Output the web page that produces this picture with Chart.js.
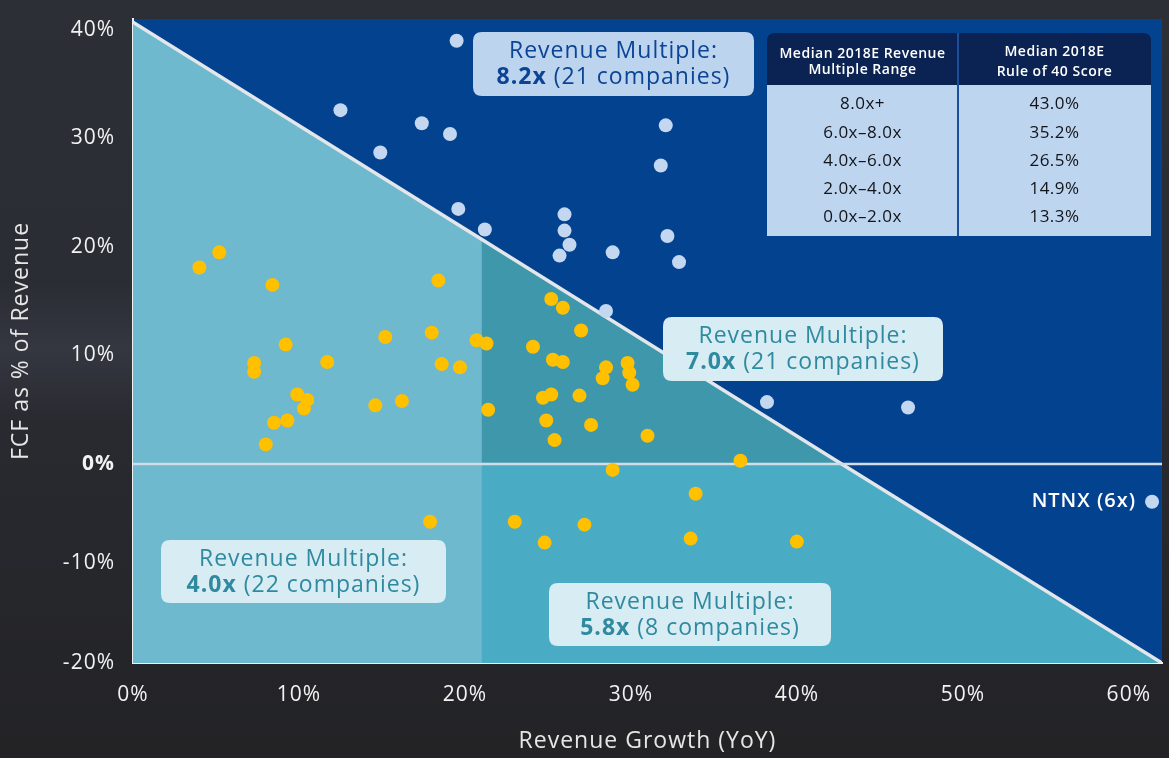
<!DOCTYPE html>
<html>
<head>
<meta charset="utf-8">
<script src="https://cdn.jsdelivr.net/npm/chart.js@4.4.1/dist/chart.umd.min.js"></script>
<style>
  html, body { margin: 0; padding: 0; background: #26272b; }
  canvas { display: block; }
</style>
</head>
<body>
<canvas id="c" width="1169" height="758"></canvas>
<script>
// ---------------- DATA ----------------
const xTickValues = [0, 10, 20, 30, 40, 50, 60];
const yTickValues = [-20, -10, 0, 10, 20, 30, 40];

// Companies above the Rule-of-40 line (light blue dots)
const highGrowth = [19.5, 12.5, 17.4, 19.1, 14.9, 32.1, 31.8, 19.6, 26.0, 21.2, 26.0, 26.3, 25.7, 28.9, 32.2, 32.9, 28.5, 38.2, 46.7];
const highFcf    = [39.0, 32.6, 31.4, 30.4, 28.7, 31.2, 27.5, 23.5, 23.0, 21.6, 21.5, 20.2, 19.2, 19.5, 21.0, 18.6, 14.1, 5.7, 5.2];

// NTNX, labelled separately
const ntnxGrowth = [61.4];
const ntnxFcf    = [-3.8];
const ntnxLabel  = 'NTNX (6x)';

// Companies below the Rule-of-40 line (yellow dots)
const lowGrowth = [5.2, 4.0, 8.4, 18.4, 9.2, 7.3, 7.3, 11.7, 15.2, 18.0, 20.7, 18.6, 19.7, 9.9, 10.5, 10.3, 8.5, 9.3, 8.0, 14.6, 16.2, 17.9,
                   21.3, 24.1, 25.2, 25.9, 27.0, 25.3, 25.9, 28.5, 28.3, 29.8, 29.9, 30.1, 24.7, 25.2, 26.9, 21.4, 24.9, 27.6, 25.4, 31.0, 36.6,
                   28.9, 33.9, 23.0, 27.2, 24.8, 33.6, 40.0];
const lowFcf    = [19.5, 18.1, 16.5, 16.9, 11.0, 9.3, 8.5, 9.4, 11.7, 12.1, 11.4, 9.2, 8.9, 6.4, 5.9, 5.1, 3.8, 4.0, 1.8, 5.4, 5.8, -5.8,
                   11.1, 10.8, 15.2, 14.4, 12.3, 9.6, 9.4, 8.9, 7.9, 9.3, 8.4, 7.3, 6.1, 6.4, 6.3, 5.0, 4.0, 3.6, 2.2, 2.6, 0.3,
                   -0.6, -3.0, -5.8, -6.1, -7.9, -7.5, -7.8];

// Rule-of-40 boundary line and the 21% growth split
const ruleLineGrowth = [0, 21, 42.7, 62];
const ruleLineFcf    = [40.7, 20.7, 0, -20];
const zeroLineGrowth = [0, 62];
const zeroLineFcf    = [0, 0];

// Region annotations
const regionTitle  = 'Revenue Multiple:';
const regionMult   = ['8.2x', '7.0x', '4.0x', '5.8x'];
const regionCounts = ['(21 companies)', '(21 companies)', '(22 companies)', '(8 companies)'];

// Table
const tableHeader1 = ['Median 2018E Revenue', 'Multiple Range'];
const tableHeader2 = ['Median 2018E', 'Rule of 40 Score'];
const tableRanges  = ['8.0x+', '6.0x\u20138.0x', '4.0x\u20136.0x', '2.0x\u20134.0x', '0.0x\u20132.0x'];
const tableScores  = ['43.0%', '35.2%', '26.5%', '14.9%', '13.3%'];

// ---------------- STYLE ----------------
const FONT = "'Open Sans', 'Noto Sans', sans-serif";
const C_PLOT_BG   = '#03428f';
const C_LIGHT     = '#6eb9cd';
const C_DARKTEAL  = '#3f97ab';
const C_MIDTEAL   = '#4aabc4';
const C_YELLOW    = '#ffc000';
const C_BLUEDOT   = '#c3d7f0';

// y axis is drawn with slightly different spacing above and below zero (as in the source graphic)
const PX_PER_PCT_UP = 10.85, PX_PER_PCT_DOWN = 9.95;

class SplitLinearScale extends Chart.LinearScale {
  _zeroFrac() {
    const down = (0 - this.min) * PX_PER_PCT_DOWN;
    const up = this.max * PX_PER_PCT_UP;
    return down / (down + up);
  }
  getPixelForValue(value) {
    if (value === null || value === undefined || Number.isNaN(value)) return NaN;
    const f = this._zeroFrac();
    const dec = value <= 0 ? f * (value - this.min) / (0 - this.min) : f + (1 - f) * value / this.max;
    return this.getPixelForDecimal(dec);
  }
  getValueForPixel(pixel) {
    const f = this._zeroFrac();
    const dec = this.getDecimalForPixel(pixel);
    return dec <= f ? this.min + (dec / f) * (0 - this.min) : ((dec - f) / (1 - f)) * this.max;
  }
}
SplitLinearScale.id = 'splitLinear';
SplitLinearScale.defaults = Chart.LinearScale.defaults;
Chart.register(SplitLinearScale);

const pts = (xs, ys) => xs.map((x, i) => ({ x: x, y: ys[i] }));
const ruleIdx21 = 1, ruleIdxZero = 2;

function roundRect(ctx, x, y, w, h, r) {
  ctx.beginPath();
  ctx.moveTo(x + r, y);
  ctx.lineTo(x + w - r, y);
  ctx.quadraticCurveTo(x + w, y, x + w, y + r);
  ctx.lineTo(x + w, y + h - r);
  ctx.quadraticCurveTo(x + w, y + h, x + w - r, y + h);
  ctx.lineTo(x + r, y + h);
  ctx.quadraticCurveTo(x, y + h, x, y + h - r);
  ctx.lineTo(x, y + r);
  ctx.quadraticCurveTo(x, y, x + r, y);
  ctx.closePath();
}

function drawRegionBox(ctx, box, i) {
  ctx.save();
  ctx.letterSpacing = '1px';
  ctx.fillStyle = box.bg;
  roundRect(ctx, box.x, box.y, box.w, box.h, 9);
  ctx.fill();
  ctx.fillStyle = box.fg;
  ctx.textBaseline = 'middle';
  ctx.textAlign = 'center';
  const cx = box.x + box.w / 2;
  ctx.font = '400 23px ' + FONT;
  ctx.fillText(regionTitle, cx, box.y + 19);
  ctx.font = '700 23px ' + FONT;
  const bold = regionMult[i];
  const wb = ctx.measureText(bold).width;
  ctx.font = '400 23px ' + FONT;
  const rest = ' ' + regionCounts[i];
  const wr = ctx.measureText(rest).width;
  const start = cx - (wb + wr) / 2;
  ctx.textAlign = 'left';
  ctx.font = '700 23px ' + FONT;
  ctx.fillText(bold, start, box.y + 45);
  ctx.font = '400 23px ' + FONT;
  ctx.fillText(rest, start + wb, box.y + 45);
  ctx.restore();
}

const decor = {
  id: 'decor',
  beforeDraw(chart) {
    const { ctx, chartArea: a, width, height } = chart;
    ctx.save();
    const g = ctx.createLinearGradient(0, 0, 0, height);
    g.addColorStop(0, '#2d2f36');
    g.addColorStop(0.45, '#2a2c33');
    g.addColorStop(1, '#232326');
    ctx.fillStyle = g;
    ctx.fillRect(0, 0, width, height);
    const s = ctx.createLinearGradient(0, 280, 0, 420);
    s.addColorStop(0, 'rgba(70,76,88,0)');
    s.addColorStop(0.5, 'rgba(70,76,88,0.35)');
    s.addColorStop(1, 'rgba(70,76,88,0)');
    ctx.fillStyle = s;
    ctx.fillRect(0, 280, a.left, 140);
    ctx.fillStyle = C_PLOT_BG;
    ctx.fillRect(a.left, a.top, a.right - a.left, a.bottom - a.top);
    ctx.restore();
    // axis text in the source uses a wide typeface; add a little tracking
    ctx.letterSpacing = '1px';
  },
  afterDraw(chart) {
    const { ctx } = chart;
    const xs = chart.scales.x, ys = chart.scales.y;
    const boxes = [
      { x: 473, y: 32, w: 281, h: 64, bg: '#bdd4ef', fg: '#0c4495' },
      { x: 663, y: 317, w: 280, h: 64, bg: '#d8ecf3', fg: '#2f8aa0' },
      { x: 161, y: 540, w: 285, h: 63, bg: '#d8ecf3', fg: '#2f8aa0' },
      { x: 549, y: 583, w: 282, h: 63, bg: '#d8ecf3', fg: '#2f8aa0' }
    ];
    boxes.forEach((b, i) => drawRegionBox(ctx, b, i));

    ctx.save();
    ctx.letterSpacing = '1px';
    ctx.fillStyle = '#ffffff';
    ctx.font = '600 20px ' + FONT;
    ctx.textAlign = 'right';
    ctx.textBaseline = 'middle';
    ctx.fillText(ntnxLabel, xs.getPixelForValue(ntnxGrowth[0]) - 16, ys.getPixelForValue(ntnxFcf[0]));
    ctx.restore();

    const tx0 = 767, tx1 = 1151, ty0 = 33, tyH = 85, ty1 = 236, tdiv = 958;
    ctx.save();
    ctx.letterSpacing = '0.5px';
    ctx.fillStyle = '#bed5f0';
    ctx.fillRect(tx0, tyH, tx1 - tx0, ty1 - tyH);
    ctx.fillStyle = '#0b2352';
    ctx.beginPath();
    ctx.moveTo(tx0, tyH);
    ctx.lineTo(tx0, ty0 + 8);
    ctx.quadraticCurveTo(tx0, ty0, tx0 + 8, ty0);
    ctx.lineTo(tx1 - 8, ty0);
    ctx.quadraticCurveTo(tx1, ty0, tx1, ty0 + 8);
    ctx.lineTo(tx1, tyH);
    ctx.closePath();
    ctx.fill();
    ctx.strokeStyle = '#1b4f9b';
    ctx.lineWidth = 2;
    ctx.beginPath();
    ctx.moveTo(tdiv, ty0);
    ctx.lineTo(tdiv, ty1);
    ctx.stroke();
    ctx.textAlign = 'center';
    ctx.textBaseline = 'middle';
    ctx.fillStyle = '#ffffff';
    ctx.font = '600 14px ' + FONT;
    const c1 = (tx0 + tdiv) / 2, c2 = (tdiv + tx1) / 2;
    ctx.fillText(tableHeader1[0], c1, 54);
    ctx.fillText(tableHeader1[1], c1, 70);
    ctx.fillText(tableHeader2[0], c2, 52);
    ctx.fillText(tableHeader2[1], c2, 72);
    ctx.fillStyle = '#111418';
    ctx.font = '400 17px ' + FONT;
    const rowY = [104, 133, 161, 189, 217];
    tableRanges.forEach((t, i) => {
      ctx.fillText(t, c1, rowY[i]);
      ctx.fillText(tableScores[i], c2, rowY[i]);
    });
    ctx.restore();
  }
};

new Chart(document.getElementById('c'), {
  type: 'scatter',
  data: {
    datasets: [
      { type: 'line', label: 'below rule of 40', data: pts(ruleLineGrowth, ruleLineFcf), showLine: true,
        borderWidth: 0, borderColor: 'rgba(0,0,0,0)', backgroundColor: C_LIGHT, fill: 'start', pointRadius: 0, order: 10 },
      { type: 'line', label: '21%+ growth, positive FCF', data: pts(ruleLineGrowth.slice(ruleIdx21, ruleIdxZero + 1), ruleLineFcf.slice(ruleIdx21, ruleIdxZero + 1)),
        showLine: true, borderWidth: 0, borderColor: 'rgba(0,0,0,0)', backgroundColor: C_DARKTEAL, fill: 'origin', pointRadius: 0, order: 9 },
      { type: 'line', label: '21%+ growth, negative FCF',
        data: [{ x: ruleLineGrowth[ruleIdx21], y: zeroLineFcf[0] }].concat(pts(ruleLineGrowth.slice(ruleIdxZero), ruleLineFcf.slice(ruleIdxZero))),
        showLine: true, borderWidth: 0, borderColor: 'rgba(0,0,0,0)', backgroundColor: C_MIDTEAL, fill: 'start', pointRadius: 0, order: 8 },
      { type: 'line', label: 'Rule of 40', data: pts(ruleLineGrowth, ruleLineFcf), showLine: true,
        borderWidth: 3.5, borderColor: '#e3e6ea', fill: false, pointRadius: 0, order: 7 },
      { type: 'line', label: 'zero', data: pts(zeroLineGrowth, zeroLineFcf), showLine: true,
        borderWidth: 2.5, borderColor: '#d2dce6', fill: false, pointRadius: 0, order: 6 },
      { label: 'Below 40', data: pts(lowGrowth, lowFcf), backgroundColor: C_YELLOW, borderWidth: 0, pointRadius: 7, order: 2 },
      { label: 'Above 40', data: pts(highGrowth, highFcf), backgroundColor: C_BLUEDOT, borderWidth: 0, pointRadius: 7, order: 1 },
      { label: 'NTNX', data: pts(ntnxGrowth, ntnxFcf), backgroundColor: C_BLUEDOT, borderWidth: 0, pointRadius: 7, order: 1 }
    ]
  },
  options: {
    responsive: false,
    animation: false,
    devicePixelRatio: 1,
    layout: { padding: { top: 19, right: 7, left: 0, bottom: 0 } },
    plugins: { legend: { display: false }, tooltip: { enabled: false } },
    scales: {
      x: {
        type: 'linear', min: 0, max: 62, z: 1,
        afterBuildTicks: (s) => { s.ticks = xTickValues.map(v => ({ value: v })); },
        afterFit: (s) => { s.height = 95; s.paddingLeft = 0; s.paddingRight = 0; },
        grid: { display: false, drawTicks: false },
        border: { display: true, color: '#eef2f6', width: 2 },
        ticks: { color: '#f2f2f2', font: { family: FONT, size: 21 }, padding: 19, maxRotation: 0, autoSkip: false,
                 callback: (v) => v + '%' },
        title: { display: true, text: 'Revenue Growth (YoY)', color: '#e6e6e6', font: { family: FONT, size: 23 }, padding: { top: 0, bottom: 3 } }
      },
      y: {
        type: 'splitLinear', min: -20, max: 41, z: 1,
        afterBuildTicks: (s) => { s.ticks = yTickValues.map(v => ({ value: v })); },
        afterFit: (s) => { s.width = 133; s.paddingTop = 0; s.paddingBottom = 0; },
        grid: { display: false, drawTicks: false },
        border: { display: true, color: '#eef2f6', width: 2 },
        ticks: { color: '#f2f2f2', padding: 18, autoSkip: false,
                 font: (c) => ({ family: FONT, size: 21, weight: (c.tick && c.tick.value === 0) ? '700' : '400' }),
                 callback: (v) => v + '%' },
        title: { display: true, text: 'FCF as % of Revenue', color: '#e6e6e6', font: { family: FONT, size: 23 }, padding: { top: 8, bottom: 0 } }
      }
    }
  },
  plugins: [decor]
});
</script>
</body>
</html>
